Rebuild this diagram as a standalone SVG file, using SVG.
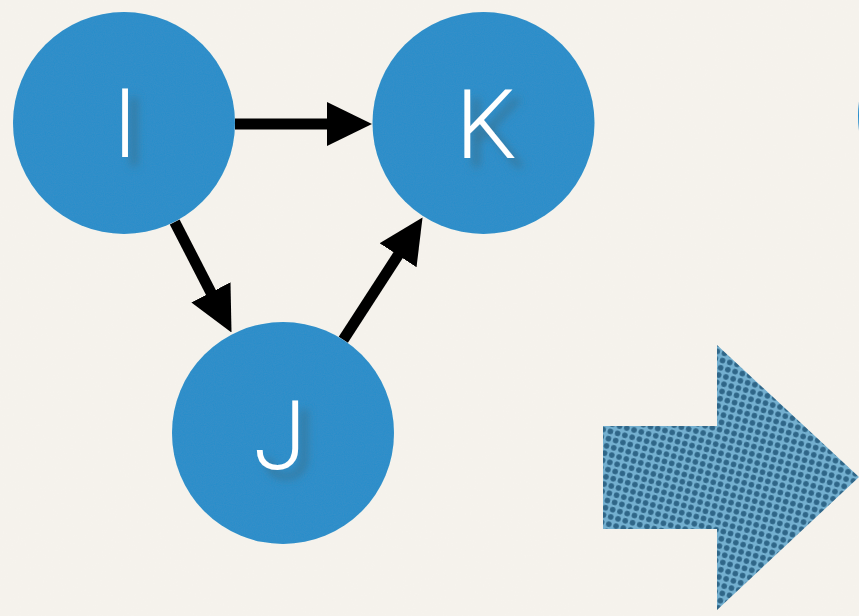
<svg xmlns="http://www.w3.org/2000/svg" width="859" height="616" viewBox="0 0 859 616">
  <defs>
    <style>
      .node circle { fill: #2a8ecb; }
      .node text { font-family: Roboto, Lato, "Open Sans", "Liberation Sans", sans-serif; font-weight: 300; font-size: 96px; fill: #ffffff; text-anchor: middle; filter: url(#textShadow); }
      .edge line { stroke: #000000; stroke-width: 11; }
    </style>
    <filter id="paper" x="0" y="0" width="100%" height="100%">
      <feTurbulence type="fractalNoise" baseFrequency="0.6" numOctaves="2" seed="3" result="n"/>
      <feColorMatrix in="n" type="matrix" values="0 0 0 0 0.6  0 0 0 0 0.58  0 0 0 0 0.54  0 0 0 0.04 0"/>
    </filter>
    <filter id="grain" x="0" y="0" width="100%" height="100%">
      <feTurbulence type="fractalNoise" baseFrequency="0.9" numOctaves="1" seed="7" result="n"/>
      <feColorMatrix in="n" type="matrix" values="0 0 0 0 0.1  0 0 0 0 0.3  0 0 0 0 0.5  0 0 0 0.18 0" result="g"/>
      <feComposite in="g" in2="SourceGraphic" operator="in" result="gi"/>
      <feMerge><feMergeNode in="SourceGraphic"/><feMergeNode in="gi"/></feMerge>
    </filter>
    <filter id="textShadow" x="-50%" y="-50%" width="200%" height="200%">
      <feGaussianBlur in="SourceAlpha" stdDeviation="4"/>
      <feOffset dx="9" dy="9" result="b"/>
      <feColorMatrix in="b" type="matrix" values="0 0 0 0 0.04  0 0 0 0 0.16  0 0 0 0 0.26  0 0 0 0.8 0" result="s"/>
      <feMerge><feMergeNode in="s"/><feMergeNode in="SourceGraphic"/></feMerge>
    </filter>
    <pattern id="halftone" width="7.5" height="7.5" patternUnits="userSpaceOnUse" patternTransform="rotate(15)">
      <rect width="7.5" height="7.5" fill="#74b0d0"/>
      <circle cx="3.75" cy="3.75" r="2.8" fill="#2f6688"/>
    </pattern>
    <marker id="head" viewBox="0 0 45 44" refX="2" refY="22" markerWidth="45" markerHeight="44" markerUnits="userSpaceOnUse" orient="auto">
      <path d="M0,0 L45,22 L0,44 Z" fill="#000000"/>
    </marker>
  </defs>

  <!-- paper background -->
  <rect width="859" height="616" fill="#f6f3ed"/>
  <rect width="859" height="616" filter="url(#paper)"/>

  <!-- connectors -->
  <g id="edges" class="edge">
    <line x1="235" y1="124" x2="329" y2="124" marker-end="url(#head)"/>
    <line x1="174.7" y1="221.9" x2="211.85" y2="294.2" marker-end="url(#head)"/>
    <line x1="343.3" y1="339.8" x2="399.15" y2="253.6" marker-end="url(#head)"/>
  </g>

  <!-- nodes -->
  <g id="node-I" class="node">
    <circle cx="124" cy="123" r="111" filter="url(#grain)"/>
    <text x="125" y="157">I</text>
  </g>
  <g id="node-K" class="node">
    <circle cx="483.5" cy="123" r="111" filter="url(#grain)"/>
    <text x="486" y="158">K</text>
  </g>
  <g id="node-J" class="node">
    <circle cx="283" cy="433" r="111" filter="url(#grain)"/>
    <text x="280" y="469">J</text>
  </g>
  <g id="node-next" class="node">
    <circle cx="969" cy="116" r="111"/>
  </g>

  <!-- big halftone arrow -->
  <g id="big-arrow">
    <path d="M603,426 L717,426 L717,345 L859,477 L717,610 L717,529 L603,529 Z" fill="url(#halftone)"/>
  </g>
</svg>
